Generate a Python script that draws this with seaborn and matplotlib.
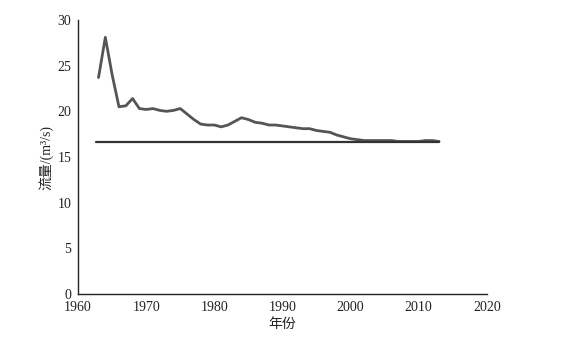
import matplotlib
matplotlib.use("Agg")
import matplotlib.pyplot as plt
import seaborn as sns
import pandas as pd

years = list(range(1963, 2014))
flow = [23.7, 28.1, 24.0, 20.5, 20.6, 21.4, 20.3, 20.2, 20.3, 20.1, 20.0, 20.1, 20.3,
        19.7, 19.1, 18.6, 18.5, 18.5, 18.3, 18.5, 18.9, 19.3, 19.1, 18.8, 18.7, 18.5,
        18.5, 18.4, 18.3, 18.2, 18.1, 18.1, 17.9, 17.8, 17.7, 17.4, 17.2, 17.0, 16.9,
        16.8, 16.8, 16.8, 16.8, 16.8, 16.7, 16.7, 16.7, 16.7, 16.8, 16.8, 16.7]
mean_years = [1962.7, 2013.0]
mean_flow = [16.65, 16.65]

xticks = [1960, 1970, 1980, 1990, 2000, 2010, 2020]
yticks = [0, 5, 10, 15, 20, 25, 30]

sns.set_style("white")
plt.rcParams['font.family'] = ['Liberation Serif', 'Noto Sans CJK SC']

fig = plt.figure(figsize=(5.7, 3.38), dpi=100)
ax = fig.add_axes([0.137, 0.130, 0.717, 0.811])

df = pd.DataFrame({"year": years, "flow": flow})
dm = pd.DataFrame({"year": mean_years, "flow": mean_flow})
sns.lineplot(data=df, x="year", y="flow", ax=ax, color="#555555", linewidth=2.0)
sns.lineplot(data=dm, x="year", y="flow", ax=ax, color="#333333", linewidth=1.6)

ax.set_xlim(1960, 2020)
ax.set_ylim(0, 30)
ax.set_xticks(xticks)
ax.set_yticks(yticks)
for s in ["top", "right"]:
    ax.spines[s].set_visible(False)
for s in ["left", "bottom"]:
    ax.spines[s].set_color("#222222")
    ax.spines[s].set_linewidth(1.0)
ax.tick_params(axis="x", direction="in", length=3, labelsize=10, colors="#222222", pad=5)
ax.tick_params(axis="y", direction="out", length=3, labelsize=10, colors="#222222", pad=2)
ax.set_xlabel("年份", fontsize=10, labelpad=3, color="#222222")
ax.set_ylabel("流量/(m³/s)", fontsize=10, labelpad=3, color="#222222")

fig.savefig("out.png", dpi=100)
